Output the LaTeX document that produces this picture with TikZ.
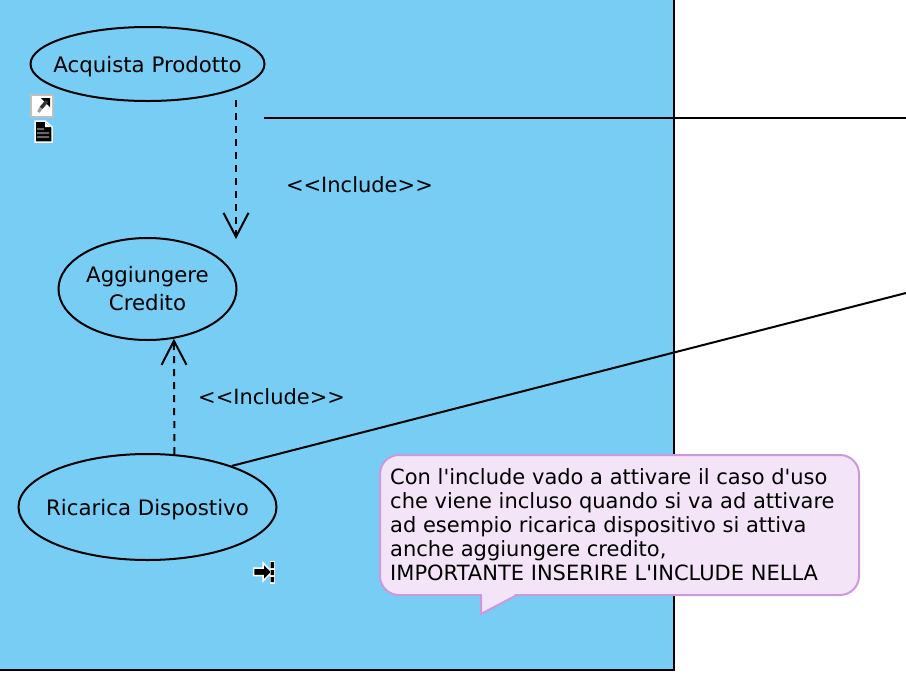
\documentclass[tikz,border=0pt]{standalone}
\usepackage{fontspec}
\setmainfont{DejaVu Sans}
\usetikzlibrary{arrows.meta,shapes.geometric}
\definecolor{panelBlue}{HTML}{78CDF5}
\definecolor{noteFill}{HTML}{F3E5F7}
\definecolor{noteLine}{HTML}{CC99DD}
\begin{document}
\begin{tikzpicture}[
    x=1pt,y=-1pt,
    usecase/.style={%
      draw,
      ellipse,
      line width=2pt,
      inner xsep=-30pt,
      inner ysep=0pt,
      align=center,
      font=\fontsize{21.3}{28}\selectfont,
    },
    oneline/.style={%
      text height=16pt,
      text depth=0pt,
    },
    include/.style={%
      draw,
      dash pattern=on 7pt off 6pt,
      line width=2pt,
      -{Straight Barb[length=24pt,width=25pt,line width=2pt]},
    },
    assoc/.style={%
      draw,
      line width=2pt,
    },
    lbl/.style={%
      font=\fontsize{21}{24}\selectfont,
      inner sep=0pt,
    },
    note/.style={%
      draw=noteLine,
      fill=noteFill,
      line width=2pt,
      rounded corners=19pt,
      minimum width=479pt,
      minimum height=140pt,
      inner sep=0pt,
    },
  ]

    \useasboundingbox (0,0) rectangle (906,678);
    \clip (0,0) rectangle (906,678);

    \filldraw [fill=panelBlue,line width=2pt] (-5,-5) rectangle (674,670);

    \node [usecase,oneline,minimum width=234pt,minimum height=74pt] (acquista) at (147.5,64) {Acquista Prodotto};
    \path (acquista) ++(0,225) node [usecase,minimum width=178pt,minimum height=102pt] (aggiungere) {Aggiungere\\Credito};
    \path (aggiungere) ++(0,218) node [usecase,oneline,minimum width=258pt,minimum height=106pt] (ricarica) {Ricarica Dispostivo};

    \coordinate (incStart) at (236,100);
    \coordinate (incEnd) at (236,239);
    \coordinate (assocStart) at (264,118);
    \coordinate (assocEnd) at (906,118);
    \coordinate (ricaricaEnd) at (906,293);

    \draw [include] (incStart) -- (incEnd) node [lbl,right=49pt,pos=0.61] {<{}<Include>{}>};
    \draw [include] (ricarica.63.5) -- (aggiungere.-62) node [lbl,right=23pt,pos=0.5] {<{}<Include>{}>};
    \draw [assoc] (assocStart) -- (assocEnd);
    \draw [assoc] (ricarica.26) -- (ricaricaEnd);

    % nota
    \node [note] (nota) at (619.5,525) {};
    \node [anchor=west,align=left,inner sep=0pt,font=\fontsize{21}{24}\selectfont] (notaText) at (390,525) {Con l\textquotesingle include vado a attivare il caso d\textquotesingle uso\\che viene incluso quando si va ad attivare\\ad esempio ricarica dispositivo si attiva\\anche aggiungere credito,\\IMPORTANTE INSERIRE L\textquotesingle INCLUDE NELLA};
    \fill [noteFill] (482,592) -- (482,612.3) -- (514.5,595.5) -- (514.5,592) -- cycle;
    \draw [noteLine,line width=2pt,line join=miter] (481,595) -- (481,614) -- (517,595);

    % icone
    \filldraw [fill=white,draw=black!25,line width=2pt] (31,95) rectangle (53,117);
    \fill [black] (41,98) -- (50,98) -- (50,107) -- cycle;
    \draw [black!80,line width=3.5pt] (47,101) -- (41,108);
    \draw [black!40,line width=3pt] (41,108) -- (38.5,112);
    \filldraw [fill=black,draw=white,line width=1.5pt] (35,121) -- (45,121) -- (52,127) -- (52,142) -- (35,142) -- cycle;
    \fill [white] (45,122) -- (50.5,127) -- (45,127) -- cycle;
    \fill [black!60] (37,128) rectangle (44,130) (37,132) rectangle (49,134) (37,136) rectangle (49,138);

    \filldraw [fill=black,draw=white,line width=1.5pt] (253.5,568) -- (263,568) -- (263,563) -- (272,572) -- (263,581) -- (263,575.5) -- (253.5,575.5) -- cycle;
    \fill [white] (270,561) rectangle (275,584);
    \fill [black] (270.5,562) rectangle (274,568) (270.5,570) rectangle (274,575) (270.5,577) rectangle (274,582);

\end{tikzpicture}
\end{document}
